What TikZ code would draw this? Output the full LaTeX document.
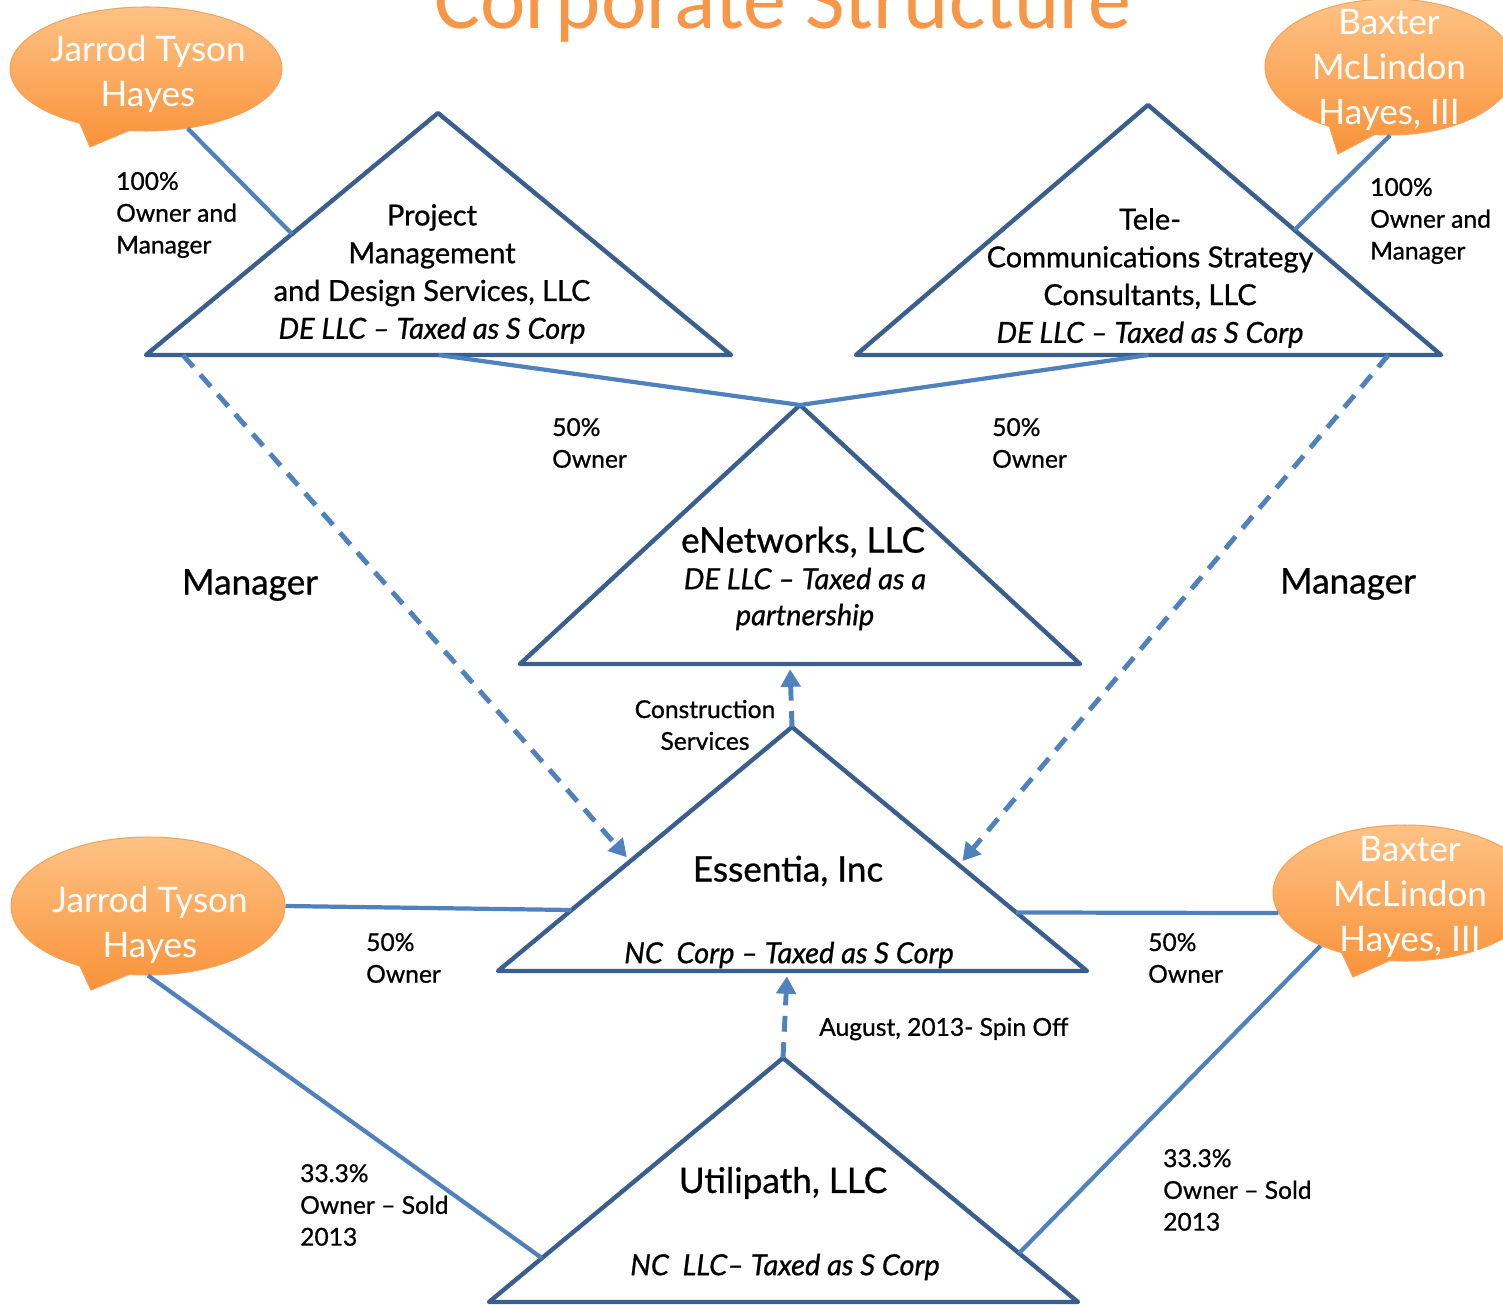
\documentclass[tikz,border=0pt]{standalone}
\usepackage{fontspec}
\setmainfont{Lato}[FakeBold=0.8]
\newfontfamily\namefont{Lato}
\newfontfamily\titlefont{Carlito}
\usetikzlibrary{calc,arrows.meta,shapes.callouts}

\definecolor{boxblue}{HTML}{3A5F8E}
\definecolor{linkblue}{HTML}{4F81BD}
\definecolor{peachtop}{HTML}{FFC285}
\definecolor{peachbot}{HTML}{F89239}
\definecolor{peachrim}{HTML}{F6A25A}
\definecolor{titleorange}{HTML}{F79646}

\tikzset{
  entity/.style={draw=boxblue,line width=2.5pt,line join=round,line cap=round},
  link/.style={draw=linkblue,line width=2.4pt},
  flow/.style={draw=linkblue,line width=2.8pt,dash pattern=on 9pt off 6pt,
    -{Triangle[length=10pt,width=11pt]},shorten >=3pt},
  owner/.style={ellipse callout,draw=peachrim,line width=0.6pt,
    top color=peachtop,bottom color=peachbot,inner sep=0pt,callout pointer arc=22},
  ownername/.style={text=white,align=center,font=\namefont\fontsize{20}{25.5}\selectfont},
  firm/.style={align=center,font=\fontsize{16.5}{21.5}\selectfont},
  firmbig/.style={font=\fontsize{20}{24}\selectfont},
  tax/.style={align=center,font=\fontsize{16.5}{20.5}\selectfont\itshape},
  note/.style={anchor=west,align=left,font=\fontsize{14}{18.1}\selectfont},
}

\begin{document}
\begin{tikzpicture}[x=0.02cm,y=-0.02cm]
  \useasboundingbox (0,0) rectangle (1503,1304);

  % title, cut at the top edge
  \node[anchor=base,text=titleorange,font=\titlefont\fontsize{49}{55}\selectfont]
    (title) at (783,29) {Corporate Structure};

  % the five companies
  \coordinate (pm-t) at (438,113);  \coordinate (pm-l) at (146,355);  \coordinate (pm-r) at (731,355);
  \coordinate (tc-t) at (1148,105); \coordinate (tc-l) at (856,355);  \coordinate (tc-r) at (1441,355);
  \coordinate (en-t) at (800,405);  \coordinate (en-l) at (520,664);  \coordinate (en-r) at (1080,664);
  \coordinate (es-t) at (792,727);  \coordinate (es-l) at (498,971);  \coordinate (es-r) at (1087,971);
  \coordinate (ut-t) at (783,1058); \coordinate (ut-l) at (489,1302); \coordinate (ut-r) at (1078,1302);
  \foreach \t in {pm,tc,en,es,ut}
    \draw[entity] (\t-l) -- (\t-t) -- (\t-r) -- cycle;

  % owners
  \node[owner,minimum width=5.44cm,minimum height=2.48cm,
    callout absolute pointer={(90,147)}] (jt-top) at (146,69) {};
  \node[owner,minimum width=5.0cm,minimum height=2.72cm,
    callout absolute pointer={(1338,154)}] (bm-top) at (1390,67) {};
  \node[owner,minimum width=5.48cm,minimum height=2.76cm,
    callout absolute pointer={(91,990)}] (jt-bot) at (148,906) {};
  \node[owner,minimum width=5.28cm,minimum height=2.72cm,
    callout absolute pointer={(1353,977)}] (bm-bot) at (1405,893) {};

  \node[ownername] (jt-top-name) at (148,74) {Jarrod Tyson\\Hayes};
  \node[ownername] (bm-top-name) at (1389,70) {Baxter\\McLindon\\Hayes, III};
  \node[ownername] (jt-bot-name) at (150,925) {Jarrod Tyson\\Hayes};
  \node[ownername] (bm-bot-name) at (1410,897) {Baxter\\McLindon\\Hayes, III};

  % ownership lines
  \draw[link] (jt-top.-55) -- ($(pm-l)!0.5!(pm-t)$);
  \draw[link] (bm-top.south) -- ($(tc-r)!0.5!(tc-t)$);
  \draw[link] ($(pm-l)!0.5!(pm-r)$) -- (en-t) -- ($(tc-l)!0.5!(tc-r)$);
  \draw[link] (jt-bot.east) -- ($(es-l)!0.25!(es-t)$);
  \draw[link] (bm-bot.189) -- ($(es-r)!0.24!(es-t)$);
  \draw[link] (jt-bot.south) -- ($(ut-l)!0.18!(ut-t)$);
  \draw[link] (bm-bot.212) -- ($(ut-r)!0.2!(ut-t)$);

  % management and services
  \draw[flow] ($(pm-l)!0.063!(pm-r)$) -- ($(es-l)!0.45!(es-t)$);
  \draw[flow] ($(tc-l)!0.91!(tc-r)$) -- ($(es-r)!0.434!(es-t)$);
  \draw[flow] (es-t) -- ($(en-l)!0.482!(en-r)$);
  \draw[flow] (ut-t) -- ($(es-l)!0.491!(es-r)$);

  % company names
  \node[firm] (pm-name) at (432,274)
    {Project\\Management\\and Design Services, LLC\\\textit{DE LLC -- Taxed as S Corp}};
  \node[firm] (tc-name) at (1150,278)
    {Tele-\\Communications Strategy\\Consultants, LLC\\\textit{DE LLC -- Taxed as S Corp}};
  \node[firmbig] (en-name) at (803,542) {eNetworks, LLC};
  \node[tax] (en-tax) at (805,599) {DE LLC -- Taxed as a\\partnership};
  \node[firmbig] (es-name) at (788,871) {Essentia, Inc};
  \node[tax] (es-tax) at (789,955) {NC\ \ Corp -- Taxed as S Corp};
  \node[firmbig] (ut-name) at (783,1183) {Utilipath, LLC};
  \node[tax] (ut-tax) at (785,1267) {NC\ \ LLC-- Taxed as S Corp};

  % labels
  \node[note] (jt-pm) at (110,215) {100\%\\Owner and\\Manager};
  \node[note] (bm-tc) at (1364,221) {100\%\\Owner and\\Manager};
  \node[note] (pm-en) at (546,443) {50\%\\Owner};
  \node[note] (tc-en) at (986,443) {50\%\\Owner};
  \node[firmbig] (pm-mgr) at (250,585) {Manager};
  \node[firmbig] (tc-mgr) at (1348,584) {Manager};
  \node[note,anchor=center,align=center] (es-en) at (705,725) {Construction\\Services};
  \node[note] (jt-es) at (360,958) {50\%\\Owner};
  \node[note] (bm-es) at (1142,958) {50\%\\Owner};
  \node[note] (ut-es) at (813,1029) {August, 2013- Spin Off};
  \node[note] (jt-ut) at (294,1205) {33.3\%\\Owner -- Sold\\2013};
  \node[note] (bm-ut) at (1157,1190) {33.3\%\\Owner -- Sold\\2013};
\end{tikzpicture}
\end{document}
